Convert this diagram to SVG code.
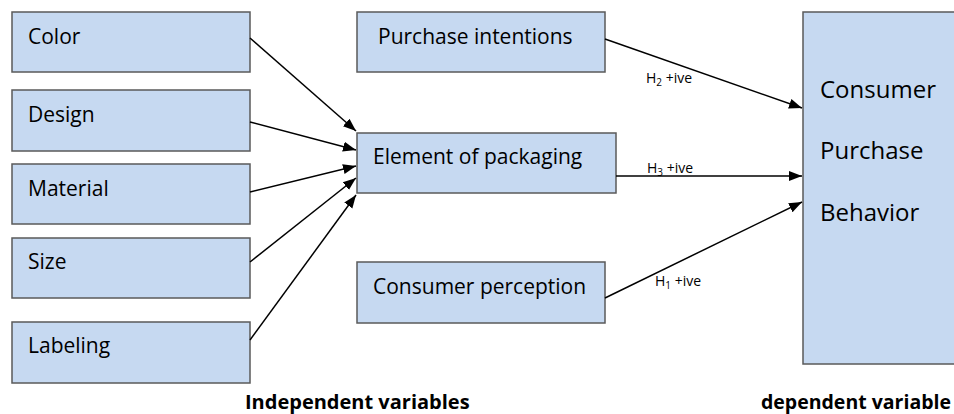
<svg xmlns="http://www.w3.org/2000/svg" width="954" height="414" viewBox="0 0 954 414">
<style>
.box{fill:#c6d9f1;stroke:#5a5a5a;stroke-width:1.5}
.lbl{font-family:"Open Sans","Liberation Sans",sans-serif;font-size:21px;fill:#000}
.big{font-family:"Open Sans","Liberation Sans",sans-serif;font-size:24px;fill:#000}
.h{font-family:"Open Sans","Liberation Sans",sans-serif;font-size:14px;fill:#000}
.cap{font-family:"Open Sans","Liberation Sans",sans-serif;font-size:20px;font-weight:bold;fill:#000}
.con line{stroke:#000;stroke-width:1.5;marker-end:url(#ah)}
</style>
<defs>
<marker id="ah" markerUnits="userSpaceOnUse" markerWidth="14" markerHeight="12" refX="13" refY="5" orient="auto" viewBox="0 0 14 10">
<path d="M0,0 L13,5 L0,10 Z" fill="#000"/>
</marker>
</defs>
<rect width="954" height="414" fill="#fff"/>
<g id="color"><rect class="box" x="12" y="12" width="238" height="60"/><text class="lbl" x="28" y="44">Color</text></g>
<g id="design"><rect class="box" x="12" y="90" width="238" height="61"/><text class="lbl" x="28" y="122">Design</text></g>
<g id="material"><rect class="box" x="12" y="164" width="238" height="60"/><text class="lbl" x="28" y="196">Material</text></g>
<g id="size"><rect class="box" x="12" y="238" width="238" height="60"/><text class="lbl" x="28" y="269">Size</text></g>
<g id="labeling"><rect class="box" x="12" y="322" width="238" height="61"/><text class="lbl" x="28" y="353">Labeling</text></g>
<g id="purchase-intentions"><rect class="box" x="357" y="12" width="248" height="60"/><text class="lbl" x="378" y="44">Purchase intentions</text></g>
<g id="element-of-packaging"><rect class="box" x="357" y="133" width="259" height="60"/><text class="lbl" x="373" y="164">Element of packaging</text></g>
<g id="consumer-perception"><rect class="box" x="357" y="262" width="248" height="61"/><text class="lbl" x="373" y="294">Consumer perception</text></g>
<g id="consumer-purchase-behavior"><rect class="box" x="803" y="12" width="160" height="352"/>
<text class="big" x="820" y="98">Consumer</text>
<text class="big" x="820" y="159">Purchase</text>
<text class="big" x="820" y="221">Behavior</text></g>
<g class="con" id="connectors">
<line x1="250" y1="38" x2="356" y2="131"/>
<line x1="250" y1="122" x2="356" y2="150"/>
<line x1="250" y1="192" x2="356" y2="166"/>
<line x1="250" y1="262" x2="356" y2="178"/>
<line x1="250" y1="340" x2="356" y2="195"/>
<line x1="605" y1="39" x2="802" y2="108"/>
<line x1="616" y1="176" x2="802" y2="176"/>
<line x1="605" y1="298" x2="802" y2="202"/>
</g>
<g id="edge-labels">
<text class="h" x="646" y="83">H<tspan font-size="10" dy="3">2</tspan><tspan dy="-3"> +ive</tspan></text>
<text class="h" x="647" y="173">H<tspan font-size="10" dy="3">3</tspan><tspan dy="-3"> +ive</tspan></text>
<text class="h" x="655" y="286">H<tspan font-size="10" dy="3">1</tspan><tspan dy="-3"> +ive</tspan></text>
</g>
<text class="cap" x="245" y="409">Independent variables</text>
<text class="cap" x="761" y="409" textLength="190" lengthAdjust="spacingAndGlyphs">dependent variable</text>
</svg>
